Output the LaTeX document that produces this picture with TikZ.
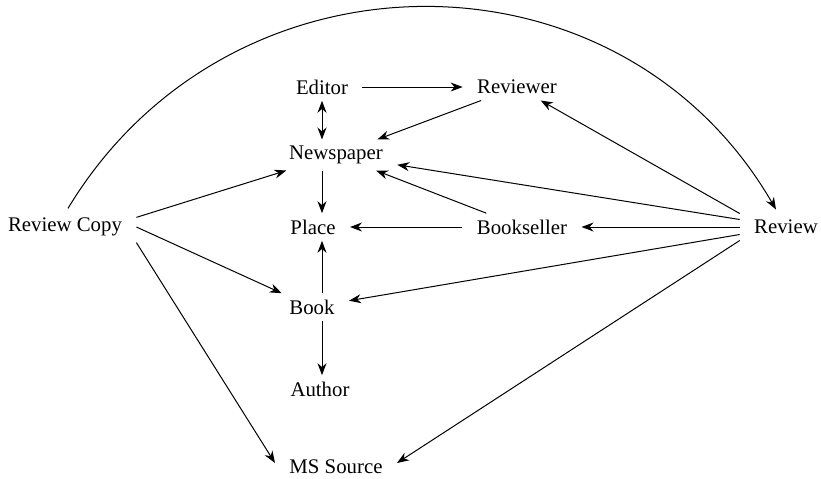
\documentclass[tikz,border=0pt]{standalone}
\usepackage{fontspec}
\setmainfont{Liberation Serif}
\usetikzlibrary{arrows.meta}

\begin{document}
\begin{tikzpicture}[x=0.5pt,y=-0.5pt,
  every node/.style={font=\fontsize{10.4}{12}\selectfont, inner xsep=7pt, inner ysep=3pt},
  every path/.style={line width=0.5pt},
  link/.style={-{Stealth[length=6pt,width=4.5pt]}},
  twoway/.style={{Stealth[length=6pt,width=4.5pt]}-{Stealth[length=6pt,width=4.5pt]}}]
\useasboundingbox (0,0) rectangle (821,478);
\node (editor) at (322,87) {Editor};
\node (reviewer) at (517,87) {Reviewer};
\node (newspaper) at (336,155) {Newspaper};
\node (place) at (313,227) {Place};
\node (bookseller) at (522,227) {Bookseller};
\node (copy) at (65,227) {Review Copy};
\node (review) at (786,227) {Review};
\node (book) at (312,307) {Book};
\node (author) at (320,389) {Author};
\node (source) at (336,467) {MS Source};
\coordinate (mid) at (322,0);
% middle column
\draw[twoway] (mid |- editor.south) -- (mid |- newspaper.north);
\draw[link] (mid |- newspaper.south) -- (mid |- place.north);
\draw[link] (mid |- book.north) -- (mid |- place.south);
\draw[link] (mid |- book.south) -- (mid |- author.north);
\draw[link] (editor) -- (reviewer);
\draw[link] (reviewer) -- (newspaper);
\draw[link] (bookseller) -- (newspaper);
\draw[link] (bookseller) -- (place);
\draw[link] (review.north west) -- (reviewer);
\draw[link] ([yshift=-3pt]review.north west) -- (newspaper);
\draw[link] (review) -- (bookseller);
\draw[link] ([yshift=3pt]review.south west) -- (book);
\draw[link] (review.south west) -- ([yshift=2pt]source.east);
\draw[link] ([yshift=-3pt]copy.north east) -- (newspaper);
\draw[link] (copy.east) -- (book);
\draw[link] (copy.south east) -- ([yshift=2pt]source.west);
\draw[link] (copy.north) ++(3,-3) .. controls (230,-60) and (620,-60) .. ([xshift=-5pt,yshift=2pt]review.north);
\end{tikzpicture}
\end{document}
